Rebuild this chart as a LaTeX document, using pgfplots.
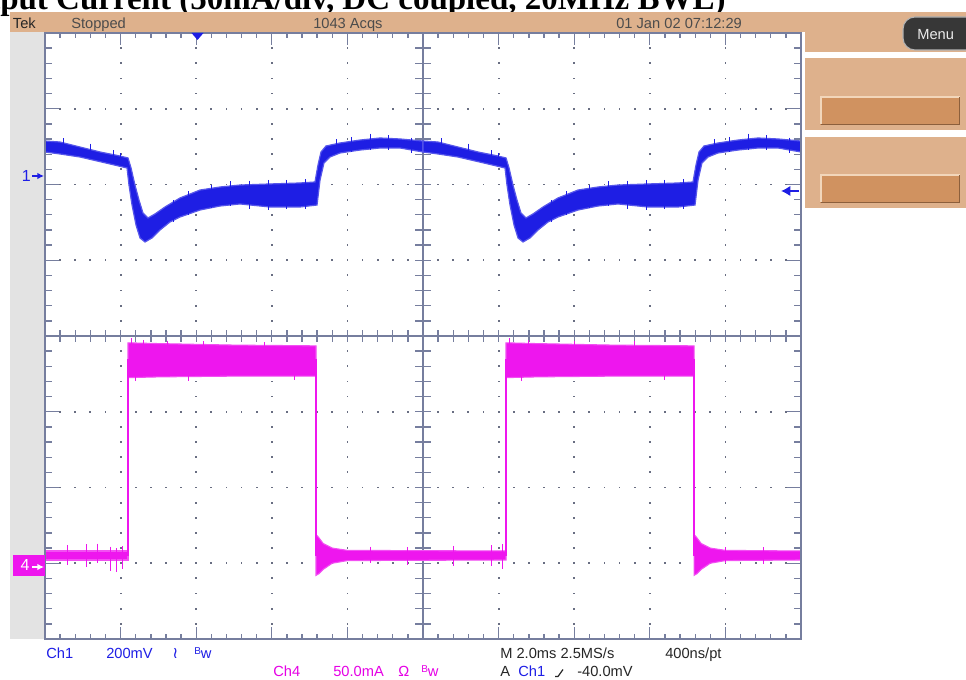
\documentclass[border=0pt]{standalone}
\usepackage{pgfplots}
\pgfplotsset{compat=1.18}
\usepackage{fontspec}
\setmainfont{Liberation Sans}
\newfontfamily\titlefont{Liberation Serif}
\newfontfamily\dejavu{DejaVu Sans}
\usetikzlibrary{arrows.meta}
\definecolor{tanc}{RGB}{222,177,140}
\definecolor{btnc}{RGB}{208,146,96}
\definecolor{btnhl}{RGB}{242,214,186}
\definecolor{btnsh}{RGB}{140,95,60}
\definecolor{grat}{RGB}{118,126,158}
\definecolor{dotc}{RGB}{105,110,130}
\definecolor{bluec}{RGB}{30,30,228}
\definecolor{magc}{RGB}{238,22,238}
\definecolor{bluetxt}{RGB}{30,30,230}
\definecolor{magtxt}{RGB}{230,0,230}
\definecolor{stripc}{RGB}{227,227,227}
\definecolor{menuc}{RGB}{55,55,55}
\begin{document}
\begin{tikzpicture}[x=0.75pt,y=0.75pt]
\clip (0,0) rectangle (966,680);
\fill[white] (0,0) rectangle (966,680);
% title (cut off at top, as in the reference)
\node[anchor=base west, inner sep=0, font=\titlefont\bfseries\fontsize{24.75}{28}\selectfont] at (-55,670.5) {Output Current (50mA/div, DC coupled, 20MHz BWL)};
% top bar and right panels
\fill[tanc] (10,648) rectangle (966,668);
\fill[tanc] (805,628) rectangle (966,668);
\fill[tanc] (805,550) rectangle (966,622);
\fill[tanc] (805,472) rectangle (966,543);
\fill[btnc] (820,555) rectangle (960,583);
\draw[btnhl, line width=1.5pt] (820.5,555.5) -- (820.5,582.5) -- (959.5,582.5);
\draw[btnsh, line width=1.2pt] (820.5,555.5) -- (959.5,555.5) -- (959.5,582.5);
\fill[btnc] (820,477) rectangle (960,505);
\draw[btnhl, line width=1.5pt] (820.5,477.5) -- (820.5,504.5) -- (959.5,504.5);
\draw[btnsh, line width=1.2pt] (820.5,477.5) -- (959.5,477.5) -- (959.5,504.5);
% menu button
\fill[menuc, draw=gray!60, line width=0.8pt, rounded corners=9pt] (903,630) rectangle (985,663);
\node[anchor=base west, inner sep=0, text=white!92!black, font=\fontsize{11}{13}\selectfont] at (917,640) {Menu};
% left strip
\fill[stripc] (10,41) rectangle (45,648);
% graticule dots
\foreach \i in {1,...,9}{
  \ifnum\i=5\relax\else
  \foreach \j in {1,...,39}{
    \fill[dotc] ({45+\i*75.6-0.9},{41+\j*15.15-0.9}) rectangle ++(1.8,1.8);
  }\fi
}
\foreach \k in {1,...,7}{
  \ifnum\k=4\relax\else
  \foreach \m in {1,...,49}{
    \fill[dotc] ({45+\m*15.12-0.9},{41+\k*75.75-0.9}) rectangle ++(1.8,1.8);
  }\fi
}
% center lines
\draw[grat, line width=1.3pt] (423,41) -- (423,647);
\draw[grat, line width=1.3pt] (45,344) -- (801,344);
\foreach \j in {1,...,39}{
  \draw[grat, line width=1pt] (415,{41+\j*15.15}) -- (431,{41+\j*15.15});
  \pgfmathsetmacro{\len}{ifthenelse(mod(\j,5)==0,14,7)}
  \draw[grat, line width=1pt] (45,{41+\j*15.15}) -- ++(\len,0);
  \draw[grat, line width=1pt] (801,{41+\j*15.15}) -- ++(-\len,0);
}
\foreach \m in {1,...,49}{
  \draw[grat, line width=1pt] ({45+\m*15.12},338) -- ({45+\m*15.12},350);
  \pgfmathsetmacro{\len}{ifthenelse(mod(\m,5)==0,12,5)}
  \draw[grat, line width=1pt] ({45+\m*15.12},41) -- ++(0,\len);
  \draw[grat, line width=1pt] ({45+\m*15.12},647) -- ++(0,-\len);
}
\begin{axis}[at={(33.75pt,30.75pt)}, anchor=south west,
  width=567pt, height=454.5pt, scale only axis,
  xmin=0, xmax=10, ymin=-4, ymax=4,
  axis line style={draw=none}, ticks=none, clip=true,
  unbounded coords=jump]
% Ch1 (blue) noisy band, two periods
\addplot[fill=bluec, draw=bluec!75!white, line width=0.9pt] coordinates {
(0,2.574) (0.198,2.561) (0.463,2.495) (0.728,2.429) (0.992,2.376) (1.098,2.350) (1.138,2.218) (1.190,1.993) (1.243,1.795) (1.296,1.624) (1.362,1.558) (1.455,1.611) (1.587,1.703) (1.786,1.822) (2.050,1.927) (2.315,1.967) (2.579,1.993) (2.976,2.007) (3.373,2.020) (3.571,2.033) (3.611,2.257) (3.651,2.429) (3.717,2.508) (3.902,2.548) (4.167,2.587) (4.431,2.614) (4.696,2.601) (5.0,2.574)
(5.0,2.429) (4.696,2.482) (4.431,2.482) (4.167,2.455) (3.902,2.416) (3.770,2.363) (3.690,2.284) (3.638,2.059) (3.598,1.729) (3.373,1.703) (2.976,1.703) (2.579,1.743) (2.315,1.716) (2.050,1.663) (1.786,1.571) (1.653,1.505) (1.521,1.399) (1.415,1.294) (1.323,1.241) (1.257,1.294) (1.204,1.465) (1.151,1.729) (1.111,1.993) (1.085,2.218) (0.860,2.271) (0.463,2.363) (0.198,2.403) (0,2.429)
} -- cycle;
\addplot[fill=bluec, draw=bluec!75!white, line width=0.9pt] coordinates {
(5,2.574) (5.198,2.561) (5.463,2.495) (5.728,2.429) (5.992,2.376) (6.098,2.350) (6.138,2.218) (6.190,1.993) (6.243,1.795) (6.296,1.624) (6.362,1.558) (6.455,1.611) (6.587,1.703) (6.786,1.822) (7.050,1.927) (7.315,1.967) (7.579,1.993) (7.976,2.007) (8.373,2.020) (8.571,2.033) (8.611,2.257) (8.651,2.429) (8.717,2.508) (8.902,2.548) (9.167,2.587) (9.431,2.614) (9.696,2.601) (10,2.574)
(10,2.429) (9.696,2.482) (9.431,2.482) (9.167,2.455) (8.902,2.416) (8.770,2.363) (8.690,2.284) (8.638,2.059) (8.598,1.729) (8.373,1.703) (7.976,1.703) (7.579,1.743) (7.315,1.716) (7.050,1.663) (6.786,1.571) (6.653,1.505) (6.521,1.399) (6.415,1.294) (6.323,1.241) (6.257,1.294) (6.204,1.465) (6.151,1.729) (6.111,1.993) (6.085,2.218) (5.860,2.271) (5.463,2.363) (5.198,2.403) (5,2.429)
} -- cycle;
% Ch1 noise spikes
\addplot[bluec, line width=0.75pt] coordinates {
(0.25,2.61) (0.25,2.50) (nan,nan) (0.60,2.54) (0.60,2.36) (nan,nan) (0.90,2.45) (0.90,2.28) (nan,nan) (1.00,2.41) (1.00,2.27) (nan,nan)
(1.70,1.79) (1.70,1.50) (nan,nan) (1.90,1.91) (1.90,1.60) (nan,nan) (2.20,1.99) (2.20,1.69) (nan,nan) (2.45,2.04) (2.45,1.71) (nan,nan) (2.70,2.05) (2.70,1.67) (nan,nan) (2.95,2.06) (2.95,1.66) (nan,nan) (3.20,2.06) (3.20,1.67) (nan,nan) (3.45,2.07) (3.45,1.67) (nan,nan)
(3.85,2.60) (3.85,2.44) (nan,nan) (4.05,2.63) (4.05,2.43) (nan,nan) (4.30,2.67) (4.30,2.46) (nan,nan) (4.55,2.65) (4.55,2.46) (nan,nan) (4.85,2.62) (4.85,2.41) (nan,nan)
(5.25,2.61) (5.25,2.50) (nan,nan) (5.60,2.54) (5.60,2.36) (nan,nan) (5.90,2.45) (5.90,2.28) (nan,nan) (6.00,2.41) (6.00,2.27) (nan,nan)
(6.70,1.79) (6.70,1.50) (nan,nan) (6.90,1.91) (6.90,1.60) (nan,nan) (7.20,1.99) (7.20,1.69) (nan,nan) (7.45,2.04) (7.45,1.71) (nan,nan) (7.70,2.05) (7.70,1.67) (nan,nan) (7.95,2.06) (7.95,1.66) (nan,nan) (8.20,2.06) (8.20,1.67) (nan,nan) (8.45,2.07) (8.45,1.67) (nan,nan)
(8.85,2.60) (8.85,2.44) (nan,nan) (9.05,2.63) (9.05,2.43) (nan,nan) (9.30,2.67) (9.30,2.46) (nan,nan) (9.55,2.65) (9.55,2.46) (nan,nan) (9.85,2.62) (9.85,2.41)};
% Ch4 (magenta) bands
\addplot[fill=magc, draw=magc!75!white, line width=0.8pt] coordinates {
(0,-2.838) (1.098,-2.838) (1.098,-2.957) (0,-2.957)} -- cycle;
\addplot[fill=magc, draw=magc!75!white, line width=0.8pt] coordinates {
(1.098,-0.09) (1.5,-0.10) (2.5,-0.12) (3.585,-0.13) (3.585,-0.53) (2.5,-0.53) (1.5,-0.54) (1.098,-0.55)} -- cycle;
\addplot[fill=magc, draw=magc!75!white, line width=0.8pt] coordinates {
(3.585,-2.62) (3.62,-2.66) (3.68,-2.74) (3.8,-2.80) (4.0,-2.83) (6.098,-2.838) (6.098,-2.957) (4.0,-2.965) (3.8,-3.0) (3.68,-3.08) (3.62,-3.14) (3.585,-3.16)} -- cycle;
\addplot[fill=magc, draw=magc!75!white, line width=0.8pt] coordinates {
(6.098,-0.09) (6.5,-0.10) (7.5,-0.12) (8.585,-0.13) (8.585,-0.53) (7.5,-0.53) (6.5,-0.54) (6.098,-0.55)} -- cycle;
\addplot[fill=magc, draw=magc!75!white, line width=0.8pt] coordinates {
(8.585,-2.62) (8.62,-2.66) (8.68,-2.74) (8.8,-2.80) (9.0,-2.83) (10,-2.838) (10,-2.957) (9.0,-2.965) (8.8,-3.0) (8.68,-3.08) (8.62,-3.14) (8.585,-3.16)} -- cycle;
% Ch4 edges
\addplot[magc, line width=1.1pt] coordinates {(1.098,-2.9) (1.098,-0.3) (nan,nan) (3.585,-0.3) (3.585,-2.9) (nan,nan) (6.098,-2.9) (6.098,-0.3) (nan,nan) (8.585,-0.3) (8.585,-2.9)};
% Ch4 noise spikes
\addplot[magc, line width=0.75pt] coordinates {
(0.30,-2.76) (0.30,-3.02) (nan,nan) (0.55,-2.75) (0.55,-3.05) (nan,nan) (0.70,-2.74) (0.70,-3.00) (nan,nan) (0.87,-2.78) (0.87,-3.10) (nan,nan) (0.95,-2.80) (0.95,-3.12) (nan,nan) (1.02,-2.77) (1.02,-3.08) (nan,nan)
(1.15,-0.03) (1.15,-0.30) (nan,nan) (1.30,-0.05) (1.30,-0.30) (nan,nan) (1.62,-0.06) (1.62,-0.30) (nan,nan) (2.10,-0.07) (2.10,-0.30) (nan,nan) (2.90,-0.08) (2.90,-0.30) (nan,nan) (1.20,-0.30) (1.20,-0.60) (nan,nan) (1.90,-0.30) (1.90,-0.59) (nan,nan) (3.30,-0.30) (3.30,-0.58) (nan,nan)
(4.30,-2.78) (4.30,-3.00) (nan,nan) (4.80,-2.79) (4.80,-3.02) (nan,nan) (5.40,-2.77) (5.40,-3.03) (nan,nan) (5.90,-2.76) (5.90,-3.04) (nan,nan) (6.05,-2.75) (6.05,-3.08) (nan,nan)
(6.15,-0.03) (6.15,-0.30) (nan,nan) (6.40,-0.05) (6.40,-0.30) (nan,nan) (7.00,-0.06) (7.00,-0.30) (nan,nan) (7.80,-0.07) (7.80,-0.30) (nan,nan) (6.30,-0.30) (6.30,-0.60) (nan,nan) (8.20,-0.30) (8.20,-0.58) (nan,nan)
(9.00,-2.79) (9.00,-3.00) (nan,nan) (9.50,-2.79) (9.50,-3.01)};
\end{axis}
% graticule frame
\draw[grat, line width=1.4pt] (45,41) rectangle (801,647);
% markers
\node[anchor=east, inner sep=0, text=bluetxt, font=\fontsize{12}{14}\selectfont] at (31,504) {1};
\draw[bluec, line width=1.3pt, -{Latex[length=5pt,width=5pt]}] (32,504) -- (44,504);
\fill[magc] (13,104) rectangle (45,125);
\node[anchor=center, inner sep=0, text=white, font=\fontsize{12}{14}\selectfont] at (25,114.5) {4};
\draw[white, line width=1.3pt, -{Latex[length=5pt,width=5pt]}] (32,113) -- (44,113);
\draw[bluec, line width=1.8pt, -{Latex[length=7pt,width=8pt]}] (799,489) -- (781,489);
\fill[bluec] (191.5,647) -- (203.5,647) -- (197.5,640) -- cycle;
% top bar text
\begin{scope}[every node/.style={anchor=base west, inner sep=0, font=\fontsize{11}{13}\selectfont}]
\node[text=black!85] at (12.7,651.5) {Tek};
\node[text=black!70] at (71,651.5) {Stopped};
\node[text=black!70] at (313,651.5) {1043 Acqs};
\node[text=black!70] at (616,651.5) {01 Jan 02 07:12:29};
% bottom text
\node[text=bluetxt] at (46,21) {Ch1};
\node[text=bluetxt] at (106,21) {200mV};
\node[text=bluetxt, font=\dejavu\fontsize{12}{14}\selectfont] at (172,21) {≀};
\node[text=bluetxt] at (194,21) {{\fontsize{7.5}{8}\selectfont\raisebox{3.5pt}{B}}w};
\node[text=magtxt] at (273,3) {Ch4};
\node[text=magtxt] at (333,3) {50.0mA};
\node[text=magtxt] at (398,3) {Ω};
\node[text=magtxt] at (421,3) {{\fontsize{7.5}{8}\selectfont\raisebox{3.5pt}{B}}w};
\node[text=black!85] at (500,21) {M 2.0ms 2.5MS/s};
\node[text=black!85] at (665,21) {400ns/pt};
\node[text=black!85] at (500,3) {A};
\node[text=bluetxt] at (518,3) {Ch1};
\node[text=black!85] at (577,3) {-40.0mV};
\end{scope}
\draw[black!85, line width=0.9pt] (555,3.5) -- (558,3.5) -- (563,10.5);
\end{tikzpicture}
\end{document}
